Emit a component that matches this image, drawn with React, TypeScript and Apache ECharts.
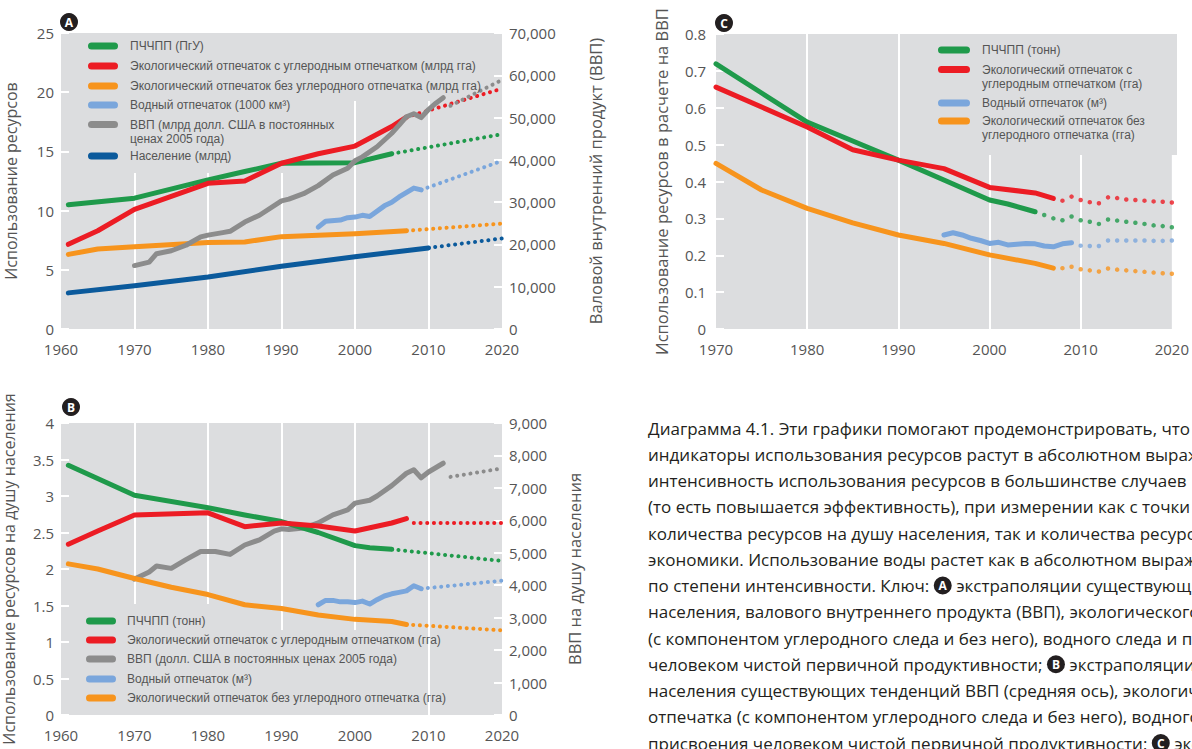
import React, { useEffect, useRef } from "react";
import * as echarts from "echarts";

// ---------- Panel A (absolute values) ----------
const aPopulation = [[1961, 3.05], [1970, 3.65], [1980, 4.4], [1990, 5.3], [2000, 6.1], [2010, 6.85]];
const aPopulationProj = [[2010, 6.85], [2020, 7.65]];
const aNpp = [[1961, 10.5], [1970, 11.05], [1980, 12.6], [1985, 13.3], [1990, 14.0], [2000, 14.05], [2005, 14.8]];
const aNppProj = [[2005, 14.8], [2020, 16.45]];
const aEfCarbon = [[1961, 7.15], [1965, 8.3], [1970, 10.1], [1980, 12.3], [1985, 12.5], [1990, 14.0], [1995, 14.8], [2000, 15.45], [2005, 17.1], [2007, 17.9]];
const aEfCarbonProj = [[2007, 17.9], [2020, 20.3]];
const aEfNoCarbon = [[1961, 6.3], [1965, 6.75], [1970, 6.95], [1980, 7.3], [1985, 7.35], [1990, 7.8], [2000, 8.05], [2007, 8.3]];
const aEfNoCarbonProj = [[2007, 8.3], [2020, 8.9]];
const aWater = [[1995, 8.6], [1996, 9.1], [1998, 9.2], [1999, 9.4], [2000, 9.45], [2001, 9.6], [2002, 9.5], [2004, 10.4], [2005, 10.7], [2006, 11.15], [2008, 11.9], [2009, 11.75]];
const aWaterProj = [[2009, 11.75], [2020, 14.2]];
const aGdp = [[1970, 15000], [1972, 15800], [1973, 17800], [1975, 18500], [1977, 19800], [1979, 21800], [1980, 22200], [1982, 22800], [1983, 23100], [1985, 25300], [1987, 26900], [1990, 30300], [1991, 30700], [1993, 32000], [1995, 33900], [1997, 36400], [1999, 38000], [2000, 39800], [2001, 40700], [2003, 43100], [2005, 46300], [2006, 48200], [2007, 50200], [2008, 50900], [2009, 50000], [2010, 51900], [2011, 53400], [2012, 54700]];
const aGdpProj = [[2013, 52800], [2020, 58900]];

// ---------- Panel B (per capita) ----------
const bNpp = [[1961, 3.42], [1970, 3.01], [1980, 2.84], [1985, 2.74], [1990, 2.65], [1995, 2.5], [2000, 2.32], [2002, 2.29], [2005, 2.27]];
const bNppProj = [[2005, 2.27], [2020, 2.11]];
const bEfCarbon = [[1961, 2.34], [1965, 2.52], [1970, 2.74], [1980, 2.77], [1985, 2.58], [1990, 2.63], [1995, 2.59], [2000, 2.52], [2005, 2.63], [2007, 2.69]];
const bEfCarbonProj = [[2008, 2.63], [2020, 2.63]];
const bEfNoCarbon = [[1961, 2.07], [1965, 2.0], [1970, 1.87], [1975, 1.75], [1980, 1.65], [1985, 1.51], [1990, 1.46], [1995, 1.37], [2000, 1.31], [2005, 1.28], [2007, 1.24]];
const bEfNoCarbonProj = [[2007, 1.24], [2020, 1.16]];
const bWater = [[1995, 1.51], [1996, 1.57], [1997, 1.57], [1998, 1.55], [1999, 1.55], [2000, 1.54], [2001, 1.56], [2002, 1.52], [2003, 1.58], [2004, 1.63], [2005, 1.66], [2006, 1.68], [2007, 1.7], [2008, 1.77], [2009, 1.73]];
const bWaterProj = [[2009, 1.73], [2020, 1.84]];
const bGdp = [[1970, 4190], [1972, 4410], [1973, 4590], [1975, 4520], [1977, 4790], [1979, 5040], [1981, 5040], [1983, 4950], [1985, 5240], [1987, 5400], [1989, 5670], [1990, 5740], [1991, 5720], [1993, 5760], [1995, 5920], [1997, 6170], [1999, 6320], [2000, 6530], [2002, 6620], [2003, 6750], [2005, 7070], [2007, 7450], [2008, 7560], [2009, 7310], [2010, 7490], [2012, 7760]];
const bGdpProj = [[2013, 7340], [2020, 7600]];

// ---------- Panel C (per GDP) ----------
const cNpp = [[1970, 0.719], [1975, 0.64], [1980, 0.561], [1985, 0.51], [1990, 0.458], [1995, 0.404], [2000, 0.35], [2002, 0.339], [2005, 0.318]];
const cNppProj = [[2006, 0.309], [2007, 0.3], [2008, 0.295], [2009, 0.305], [2010, 0.295], [2011, 0.291], [2012, 0.285], [2013, 0.297], [2014, 0.294], [2015, 0.291], [2016, 0.288], [2017, 0.285], [2018, 0.281], [2019, 0.279], [2020, 0.276]];
const cEfCarbon = [[1970, 0.656], [1975, 0.602], [1980, 0.548], [1985, 0.486], [1990, 0.458], [1995, 0.435], [2000, 0.384], [2005, 0.369], [2007, 0.354]];
const cEfCarbonProj = [[2008, 0.348], [2009, 0.359], [2010, 0.35], [2011, 0.344], [2012, 0.341], [2013, 0.357], [2014, 0.355], [2015, 0.351], [2016, 0.35], [2017, 0.348], [2018, 0.346], [2019, 0.345], [2020, 0.343]];
const cWater = [[1995, 0.255], [1996, 0.261], [1997, 0.255], [1998, 0.246], [1999, 0.24], [2000, 0.232], [2001, 0.235], [2002, 0.228], [2003, 0.23], [2004, 0.232], [2005, 0.231], [2006, 0.225], [2007, 0.223], [2008, 0.231], [2009, 0.234]];
const cWaterProj = [[2010, 0.226], [2011, 0.225], [2012, 0.225], [2013, 0.24], [2014, 0.24], [2015, 0.24], [2016, 0.24], [2017, 0.24], [2018, 0.239], [2019, 0.239], [2020, 0.24]];
const cEfNoCarbon = [[1970, 0.449], [1975, 0.377], [1980, 0.327], [1985, 0.288], [1990, 0.255], [1995, 0.232], [2000, 0.201], [2005, 0.178], [2007, 0.165]];
const cEfNoCarbonProj = [[2008, 0.165], [2009, 0.169], [2010, 0.162], [2011, 0.159], [2012, 0.156], [2013, 0.164], [2014, 0.161], [2015, 0.159], [2016, 0.157], [2017, 0.155], [2018, 0.153], [2019, 0.151], [2020, 0.15]];

// ---------- Texts ----------
const legendALabels = [
  ["ПЧЧПП (ПгУ)"],
  ["Экологический отпечаток с углеродным отпечатком (млрд гга)"],
  ["Экологический отпечаток без углеродного отпечатка (млрд гга)"],
  ["Водный отпечаток (1000 км³)"],
  ["ВВП (млрд долл. США в постоянных", "ценах 2005 года)"],
  ["Население (млрд)"],
];
const legendBLabels = [
  ["ПЧЧПП (тонн)"],
  ["Экологический отпечаток с углеродным отпечатком (гга)"],
  ["ВВП (долл. США в постоянных ценах 2005 года)"],
  ["Водный отпечаток (м³)"],
  ["Экологический отпечаток без углеродного отпечатка (гга)"],
];
const legendCLabels = [
  ["ПЧЧПП (тонн)"],
  ["Экологический отпечаток с", "углеродным отпечатком (гга)"],
  ["Водный отпечаток (м³)"],
  ["Экологический отпечаток без", "углеродного отпечатка (гга)"],
];
const captionLines = [
  "Диаграмма 4.1. Эти графики помогают продемонстрировать, что",
  "индикаторы использования ресурсов растут в абсолютном выражении,",
  "интенсивность использования ресурсов в большинстве случаев",
  "(то есть повышается эффективность), при измерении как с точки",
  "количества ресурсов на душу населения, так и количества ресурсов",
  "экономики. Использование воды растет как в абсолютном выражении,",
  "по степени интенсивности. Ключ: {b|A} экстраполяции существующих",
  "населения, валового внутреннего продукта (ВВП), экологического",
  "(с компонентом углеродного следа и без него), водного следа и присвоения",
  "человеком чистой первичной продуктивности; {b|B} экстраполяции",
  "населения существующих тенденций ВВП (средняя ось), экологического",
  "отпечатка (с компонентом углеродного следа и без него), водного",
  "присвоения человеком чистой первичной продуктивности; {b|C} экстраполяции",
];

const FONT = "'Open Sans', 'Noto Sans', sans-serif";
const NARROW = "'Liberation Sans Narrow', 'Liberation Sans', sans-serif";
const TXT = "#555";
const BG = "#dcdddf";
const GREEN = "#1f9a4b";
const RED = "#ec1c24";
const ORANGE = "#f7941d";
const WATER = "#7aa6dc";
const GDP = "#8c8c8c";
const POP = "#0b5a9c";

function solid(name: string, data: number[][], color: string, xi: number, yi: number) {
  return {
    type: "line", name, data, xAxisIndex: xi, yAxisIndex: yi, symbol: "none", silent: true, z: 3,
    lineStyle: { color, width: 5, cap: "round", join: "round" }, itemStyle: { color },
  };
}
function dotted(data: number[][], color: string, xi: number, yi: number) {
  return {
    type: "line", data, xAxisIndex: xi, yAxisIndex: yi, symbol: "none", silent: true, z: 3,
    lineStyle: { color, width: 4, type: [0.1, 6.6], cap: "round" }, itemStyle: { color },
  };
}
function dots(data: number[][], color: string, xi: number, yi: number) {
  return { type: "scatter", data, xAxisIndex: xi, yAxisIndex: yi, symbolSize: 4.5, silent: true, z: 3, itemStyle: { color } };
}

function xAxis(gridIndex: number, min: number) {
  return {
    type: "value", gridIndex, min, max: 2020, interval: 10, z: 0,
    axisLine: { show: false }, axisTick: { show: false },
    axisLabel: { color: TXT, fontSize: 15, fontFamily: FONT, margin: 12, formatter: (v: number) => String(v) },
    splitLine: { show: true, showMinLine: false, showMaxLine: false, lineStyle: { color: "#fff", width: 2 } },
  };
}
function yAxis(gridIndex: number, max: number, interval: number, position: string, name: string, nameGap: number, fmt: (v: number) => string, margin: number, nameSize: number) {
  return {
    type: "value", gridIndex, min: 0, max, interval, position, z: 3,
    axisLine: { show: false },
    axisTick: { show: true, inside: true, length: 8, lineStyle: { color: "#fff", width: 2 } },
    axisLabel: { color: TXT, fontSize: 15, fontFamily: FONT, margin, formatter: fmt },
    splitLine: { show: false },
    name, nameLocation: "middle", nameGap, nameRotate: 90,
    nameTextStyle: { color: TXT, fontSize: nameSize, fontFamily: FONT },
  };
}

function legend(labels: string[][], colors: string[], ys: number[], iconX: number, iconW: number, textX: number) {
  const els: any[] = [];
  labels.forEach((lines, i) => {
    els.push({
      type: "rect", z: 10, shape: { x: iconX, y: ys[i] - 3.5, width: iconW, height: 7, r: 3.5 },
      style: { fill: colors[i] },
    });
    lines.forEach((t, j) => {
      els.push({
        type: "text", z: 10, x: textX, y: ys[i] + j * 14,
        style: { text: t, fill: TXT, fontSize: 12, fontFamily: NARROW, verticalAlign: "middle", align: "left" },
      });
    });
  });
  return els;
}
function badge(letter: string, x: number, y: number) {
  return [
    { type: "circle", z: 10, shape: { cx: x, cy: y, r: 9 }, style: { fill: "#231f20" } },
    { type: "text", z: 11, x, y: y + 0.5, style: { text: letter, fill: "#fff", fontSize: 12, fontWeight: "bold", fontFamily: FONT, align: "center", verticalAlign: "middle" } },
  ];
}
function bgRect(x: number, y: number, w: number, h: number) {
  return { type: "rect", z: 1, shape: { x, y, width: w, height: h }, style: { fill: BG } };
}

const fmtPlain = (v: number) => String(v);
const fmtComma = (v: number) => v.toLocaleString("en-US");

function buildOption() {
  const caption = captionLines.map((t, i) => ({
    type: "text", z: 10, x: 648, y: 428 + i * 26.25,
    style: {
      text: t, fill: "#231f20", fontSize: 17, fontFamily: FONT, verticalAlign: "middle", align: "left",
      rich: {
        b: { backgroundColor: "#231f20", fill: "#fff", color: "#fff", width: 18, height: 18, lineHeight: 18, borderRadius: 9, align: "center", fontWeight: "bold", fontSize: 12, fontFamily: FONT },
      },
    },
  }));

  return {
    animation: false,
    grid: [
      { left: 61, top: 33, width: 441, height: 296, show: true, backgroundColor: BG, borderWidth: 0 },
      { left: 61, top: 423, width: 441, height: 292, show: true, backgroundColor: BG, borderWidth: 0 },
      { left: 716, top: 34, width: 461, height: 295, show: true, backgroundColor: BG, borderWidth: 0 },
    ],
    xAxis: [xAxis(0, 1960), xAxis(1, 1960), xAxis(2, 1970)],
    yAxis: [
      yAxis(0, 25, 5, "left", "Использование ресурсов", 42, fmtPlain, 7, 16),
      yAxis(0, 70000, 10000, "right", "Валовой внутренний продукт (ВВП)", 85, fmtComma, 7, 16.5),
      yAxis(1, 4, 0.5, "left", "Использование ресурсов на душу населения", 44, fmtPlain, 7, 16),
      yAxis(1, 9000, 1000, "right", "ВВП на душу населения", 64, fmtComma, 7, 16.5),
      yAxis(2, 0.8, 0.1, "left", "Использование ресурсов в расчете на ВВП", 46, (v: number) => (v === 0 ? "0" : v.toFixed(1)), 10, 16.5),
    ],
    series: [
      // A
      solid("Население (млрд)", aPopulation, POP, 0, 0),
      dotted(aPopulationProj, POP, 0, 0),
      solid("Экологический отпечаток без углеродного отпечатка (млрд гга)", aEfNoCarbon, ORANGE, 0, 0),
      dotted(aEfNoCarbonProj, ORANGE, 0, 0),
      solid("Водный отпечаток (1000 км³)", aWater, WATER, 0, 0),
      dotted(aWaterProj, WATER, 0, 0),
      solid("ПЧЧПП (ПгУ)", aNpp, GREEN, 0, 0),
      dotted(aNppProj, GREEN, 0, 0),
      solid("Экологический отпечаток с углеродным отпечатком (млрд гга)", aEfCarbon, RED, 0, 0),
      dotted(aEfCarbonProj, RED, 0, 0),
      solid("ВВП (млрд долл. США в постоянных ценах 2005 года)", aGdp, GDP, 0, 1),
      dotted(aGdpProj, GDP, 0, 1),
      // B
      solid("ВВП (долл. США в постоянных ценах 2005 года)", bGdp, GDP, 1, 3),
      dotted(bGdpProj, GDP, 1, 3),
      solid("Экологический отпечаток без углеродного отпечатка (гга)", bEfNoCarbon, ORANGE, 1, 2),
      dotted(bEfNoCarbonProj, ORANGE, 1, 2),
      solid("Водный отпечаток (м³)", bWater, WATER, 1, 2),
      dotted(bWaterProj, WATER, 1, 2),
      solid("ПЧЧПП (тонн)", bNpp, GREEN, 1, 2),
      dotted(bNppProj, GREEN, 1, 2),
      solid("Экологический отпечаток с углеродным отпечатком (гга)", bEfCarbon, RED, 1, 2),
      dotted(bEfCarbonProj, RED, 1, 2),
      // C
      solid("C: ПЧЧПП (тонн)", cNpp, GREEN, 2, 4),
      dots(cNppProj, GREEN, 2, 4),
      solid("C: Экологический отпечаток с углеродным отпечатком (гга)", cEfCarbon, RED, 2, 4),
      dots(cEfCarbonProj, RED, 2, 4),
      solid("C: Водный отпечаток (м³)", cWater, WATER, 2, 4),
      dots(cWaterProj, WATER, 2, 4),
      solid("C: Экологический отпечаток без углеродного отпечатка (гга)", cEfNoCarbon, ORANGE, 2, 4),
      dots(cEfNoCarbonProj, ORANGE, 2, 4),
    ],
    graphic: [
      bgRect(61, 33, 280, 140),
      bgRect(61, 33, 395, 68),
      bgRect(61, 604, 200, 111),
      bgRect(61, 630, 360, 85),
      bgRect(925, 34, 252, 121),
      ...legend(legendALabels, [GREEN, RED, ORANGE, WATER, GDP, POP], [46, 66, 86, 105, 124.5, 156], 88, 30, 130),
      ...legend(legendBLabels, [GREEN, RED, GDP, WATER, ORANGE], [621, 640, 659, 679, 698], 86, 30, 127),
      ...legend(legendCLabels, [GREEN, RED, WATER, ORANGE], [50, 69.5, 103, 121], 938, 32, 982),
      ...badge("A", 69, 22),
      ...badge("B", 71, 407),
      ...badge("C", 724, 23),
      ...caption,
    ],
  };
}

export default function App() {
  const ref = useRef<HTMLDivElement>(null);
  useEffect(() => {
    const chart = echarts.init(ref.current as HTMLDivElement, null, { renderer: "svg" });
    chart.setOption(buildOption() as any);
    return () => chart.dispose();
  }, []);
  return (
    <div
      ref={ref}
      style={{ position: "fixed", left: 0, top: 0, width: 1192, height: 749, background: "#fff", overflow: "hidden" }}
    />
  );
}
